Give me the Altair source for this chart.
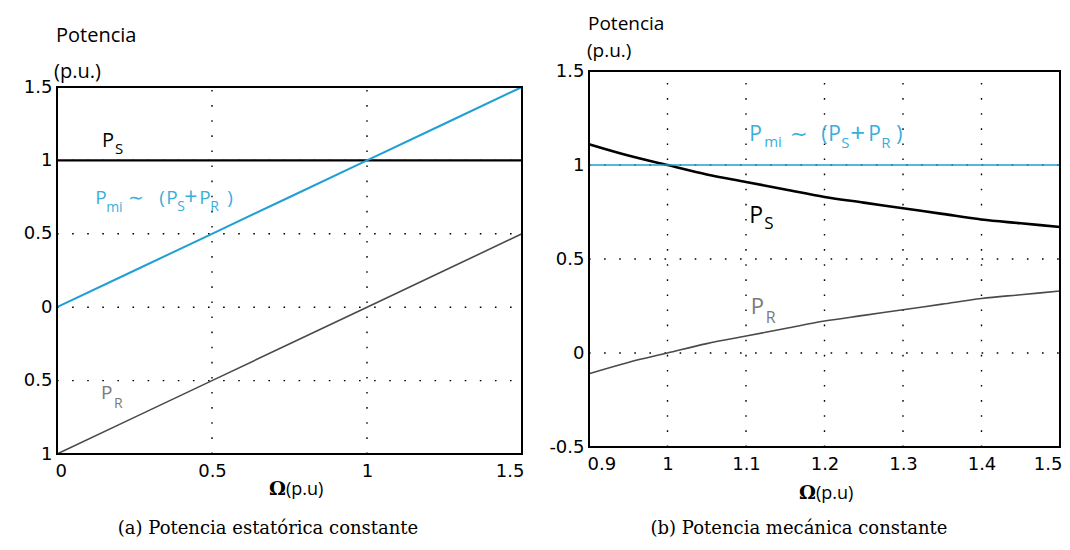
import altair as alt
import pandas as pd

# ---------------- data: panel (a) ----------------
omega_a = [0.0, 0.5, 1.0, 1.5]
ps_a = [1.0, 1.0, 1.0, 1.0]
pmi_a = [0.0, 0.5, 1.0, 1.5]
pr_a = [-1.0, -0.5, 0.0, 0.5]

# ---------------- data: panel (b) ----------------
omega_b = [0.9, 0.95, 1.0, 1.05, 1.1, 1.15, 1.2, 1.25, 1.3, 1.35, 1.4, 1.45, 1.5]
ps_b = [1.11, 1.05, 1.0, 0.95, 0.91, 0.87, 0.83, 0.80, 0.77, 0.74, 0.71, 0.69, 0.67]
pr_b = [-0.11, -0.05, 0.0, 0.05, 0.09, 0.13, 0.17, 0.20, 0.23, 0.26, 0.29, 0.31, 0.33]
pmi_b = [1.0, 1.0, 1.0, 1.0, 1.0, 1.0, 1.0, 1.0, 1.0, 1.0, 1.0, 1.0, 1.0]

# ---------------- axes ----------------
xdom_a = [0.0, 1.5]
ydom_a = [-1.0, 1.5]
xticks_a = [0, 0.5, 1, 1.5]
xlabels_a = ["0", "0.5", "1", "1.5"]
yticks_a = [-1, -0.5, 0, 0.5, 1, 1.5]
ylabels_a = ["1", "0.5", "0", "0.5", "1", "1.5"]

xdom_b = [0.9, 1.5]
ydom_b = [-0.5, 1.5]
xticks_b = [0.9, 1.0, 1.1, 1.2, 1.3, 1.4, 1.5]
xlabels_b = ["0.9", "1", "1.1", "1.2", "1.3", "1.4", "1.5"]
yticks_b = [-0.5, 0, 0.5, 1, 1.5]
ylabels_b = ["-0.5", "0", "0.5", "1", "1.5"]

captions = ["(a) Potencia estatórica constante", "(b) Potencia mecánica constante"]
ytitle = ["Potencia", "(p.u.)"]
xtitle = ["Ω", "(p.u)"]

# label anchors (data coordinates)
anchors_a = {"PS": (0.145, 1.092), "Pmi": (0.123, 0.704), "PR": (0.142, -0.622)}
anchors_b = {"PS": (1.104, 0.691), "Pmi": (1.104, 1.128), "PR": (1.106, 0.207)}

BLUE_LINE = "#1f9fd4"
BLUE_TEXT = "#3aaedb"
GRAY_LINE = "#4a4a4a"
GRAY_TEXT = "#7a7a7a"
SANS = "Open Sans"
TICKF = "DejaVu Sans"
SERIF = "DejaVu Serif"

W_A, W_B, H = 465, 471, 383


def label_expr(vals, labels):
    parts = [f"datum.value == {v} ? '{l}'" for v, l in zip(vals, labels)]
    return " : ".join(parts) + " : datum.label"


def one():
    return pd.DataFrame({"k": [0]})


def panel(omega, series, xdom, ydom, xticks, xlabels, yticks, ylabels, yrange, width,
          anchors, frags, texts, xoffset):
    xs = alt.Scale(domain=xdom, nice=False, zero=False)
    ys = alt.Scale(domain=ydom, nice=False, zero=False, range=yrange)
    xax = alt.Axis(values=xticks, domain=False, ticks=False, grid=False,
                   labelFont=TICKF, labelFontSize=18, labelColor="black",
                   labelPadding=8, labelFlush=True, labelFlushOffset=2, offset=xoffset,
                   labelExpr=label_expr(xticks, xlabels))
    yax = alt.Axis(values=yticks, domain=False, ticks=False, grid=False,
                   labelFont=TICKF, labelFontSize=18, labelColor="black",
                   labelPadding=5, labelExpr=label_expr(yticks, ylabels))
    layers = []
    # grid (dotted)
    vg = pd.DataFrame({"gx": xticks, "y1": [ydom[0]] * len(xticks), "y2": [ydom[1]] * len(xticks)})
    hg = pd.DataFrame({"gy": yticks, "x1": [xdom[0]] * len(yticks), "x2": [xdom[1]] * len(yticks)})
    layers.append(alt.Chart(vg).mark_rule(color="black", strokeWidth=1.4, strokeDash=[1.6, 13.5]).encode(
        x=alt.X("gx:Q", scale=xs, axis=xax, title=None),
        y=alt.Y("y1:Q", scale=ys, axis=yax, title=None), y2="y2:Q"))
    layers.append(alt.Chart(hg).mark_rule(color="black", strokeWidth=1.4, strokeDash=[1.6, 13.5]).encode(
        y=alt.Y("gy:Q", scale=ys), x=alt.X("x1:Q", scale=xs), x2="x2:Q"))
    # curves
    for name, vals, color, sw in series:
        df = pd.DataFrame({"omega": omega, "p": vals})
        layers.append(alt.Chart(df).mark_line(color=color, strokeWidth=sw, interpolate="monotone").encode(
            x=alt.X("omega:Q", scale=xs), y=alt.Y("p:Q", scale=ys)))
    # frame
    fr = pd.DataFrame({"x1": [xdom[0]], "x2": [xdom[1]], "y1": [ydom[0]], "y2": [ydom[1]]})
    layers.append(alt.Chart(fr).mark_rect(filled=False, stroke="black", strokeWidth=2).encode(
        x=alt.X("x1:Q", scale=xs), x2="x2:Q", y=alt.Y("y1:Q", scale=ys), y2="y2:Q"))
    # curve labels built from fragments (sub-scripts)
    for key, parts in frags:
        ax, ay = anchors[key]
        adf = pd.DataFrame({"x": [ax], "y": [ay]})
        for txt, dx, dy, size, color in parts:
            layers.append(alt.Chart(adf).mark_text(
                text=txt, align="left", baseline="alphabetic", dx=dx, dy=dy,
                fontSize=size, font=SANS, color=color).encode(
                x=alt.X("x:Q", scale=xs), y=alt.Y("y:Q", scale=ys)))
    # free texts (titles, caption)
    for txt, px, py, size, font, weight, align in texts:
        layers.append(alt.Chart(one()).mark_text(
            text=txt, align=align, baseline="alphabetic", fontSize=size, font=font,
            fontWeight=weight, color="black").encode(x=alt.value(px), y=alt.value(py)))
    return alt.layer(*layers).properties(width=width, height=H)


frags_a = [
    ("PS", [("P", 0, 0, 20, "black"), ("S", 13, 7, 15, "black")]),
    ("PR", [("P", 0, 0, 19, GRAY_TEXT), ("R", 13, 9, 14, GRAY_TEXT)]),
    ("Pmi", [("P", 0, 0, 19, BLUE_TEXT), ("mi", 11, 8, 14, BLUE_TEXT), ("∼", 33, 0, 19, BLUE_TEXT),
             ("(", 64, 0, 19, BLUE_TEXT), ("P", 71, 0, 19, BLUE_TEXT), ("S", 82, 7, 14, BLUE_TEXT),
             ("+", 89, 1, 23, BLUE_TEXT), ("P", 104, 0, 19, BLUE_TEXT), ("R", 115, 7, 14, BLUE_TEXT),
             (")", 132, 0, 19, BLUE_TEXT)]),
]
frags_b = [
    ("PS", [("P", 0, 0, 23, "black"), ("S", 15, 6, 17, "black")]),
    ("PR", [("P", 0, 0, 22, GRAY_TEXT), ("R", 15, 9, 16, GRAY_TEXT)]),
    ("Pmi", [("P", 0, 0, 21, BLUE_TEXT), ("mi", 15, 6, 15, BLUE_TEXT), ("∼", 41, 0, 21, BLUE_TEXT),
             ("(", 72, 0, 21, BLUE_TEXT), ("P", 79, 0, 21, BLUE_TEXT), ("S", 92, 7, 15, BLUE_TEXT),
             ("+", 101, 1, 26, BLUE_TEXT), ("P", 119, 0, 21, BLUE_TEXT), ("R", 132, 7, 15, BLUE_TEXT),
             (")", 147, 0, 21, BLUE_TEXT)]),
]

texts_a = [
    (ytitle[0], -1, -29, 20, SANS, "normal", "left"),
    (ytitle[1], -3, 7, 20, SANS, "normal", "left"),
    (xtitle[0], 229, 424, 19, "DejaVu Serif", "bold", "right"),
    (xtitle[1], 229, 424, 18, SANS, "normal", "left"),
    (captions[0], 211, 463, 18, SERIF, "normal", "center"),
]
texts_b = [
    (ytitle[0], -1, -41, 19, SANS, "normal", "left"),
    (ytitle[1], -2, -14, 19, SANS, "normal", "left"),
    (xtitle[0], 227, 428, 19, "DejaVu Serif", "bold", "right"),
    (xtitle[1], 227, 428, 18, SANS, "normal", "left"),
    (captions[1], 210, 463, 18, SERIF, "normal", "center"),
]

series_a = [("PS", ps_a, "black", 2.2), ("Pmi", pmi_a, BLUE_LINE, 2.0), ("PR", pr_a, GRAY_LINE, 1.6)]
series_b = [("PS", ps_b, "black", 2.6), ("Pmi", pmi_b, BLUE_LINE, 1.6), ("PR", pr_b, GRAY_LINE, 1.6)]

left = panel(omega_a, series_a, xdom_a, ydom_a, xticks_a, xlabels_a, yticks_a, ylabels_a, [H, 16], W_A,
             anchors_a, frags_a, texts_a, 0)
right = panel(omega_b, series_b, xdom_b, ydom_b, xticks_b, xlabels_b, yticks_b, ylabels_b, [H - 7, 0], W_B,
              anchors_b, frags_b, texts_b, -7)

chart = alt.hconcat(left, right, spacing=21).properties(
    padding={"left": 23, "top": 15, "right": 0, "bottom": 0},
    background="white",
).configure_view(strokeWidth=0)

chart.save("out.html", embed_options={"renderer": "svg", "actions": False})
